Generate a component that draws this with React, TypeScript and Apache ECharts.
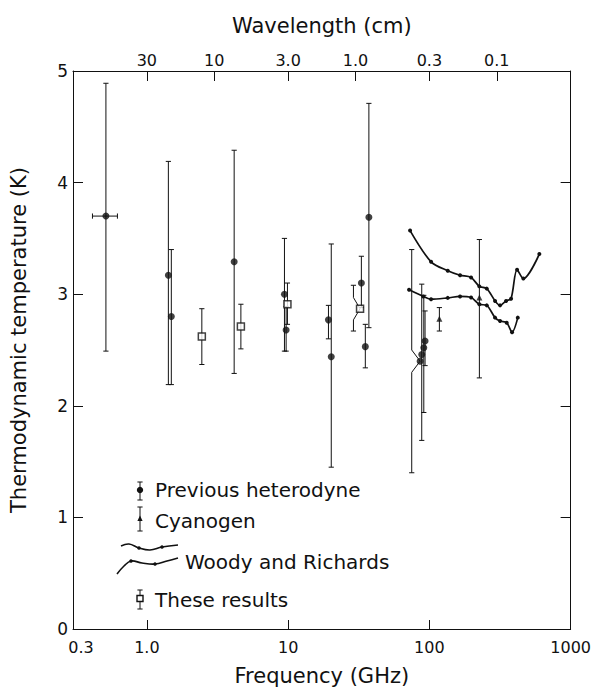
import React, { useEffect, useRef } from 'react';
import * as echarts from 'echarts';

// ---------- axis ticks ----------
const FREQ_TICKS_GHZ = [0.3, 1, 10, 100, 1000];
const FREQ_TICK_LABELS = ['0.3', '1.0', '10', '100', '1000'];
const FREQ_MAJOR_TICKS_GHZ = [1, 10, 100];
const WAVELENGTH_TICKS_CM = [30, 10, 3, 1, 0.3, 0.1];
const WAVELENGTH_TICK_LABELS = ['30', '10', '3.0', '1.0', '0.3', '0.1'];
const TEMP_MIN = 0;
const TEMP_MAX = 5;

// ---------- Previous heterodyne ----------
const PREV_FREQ = [0.513, 1.42, 1.49, 4.15, 9.42, 9.68, 19.3, 20.2, 33.0, 35.2, 37.3, 86, 88.3, 91.3, 93.2];
const PREV_TEMP = [3.7, 3.17, 2.8, 3.29, 3.0, 2.68, 2.77, 2.44, 3.1, 2.53, 3.69, 2.4, 2.46, 2.52, 2.58];
const PREV_LO = [2.49, 2.19, 2.19, 2.29, 2.49, 2.49, 2.6, 1.45, 2.88, 2.34, 2.7, 1.4, 1.69, 1.94, 2.36];
const PREV_HI = [4.89, 4.19, 3.4, 4.29, 3.5, 2.89, 2.9, 3.45, 3.34, 2.73, 4.71, 3.4, 3.09, 2.99, 2.85];
const PREV_BAR_FREQ = [0.513, 1.42, 1.49, 4.15, 9.42, 9.68, 19.3, 20.2, 33.0, 35.2, 37.3, 75, 88.3, 91.3, 93.2];
const PREV_FREQ_ERR_LO = [0.412];
const PREV_FREQ_ERR_HI = [0.619];
const PREV_FREQ_ERR_TEMP = [3.7];

// ---------- Cyanogen ----------
const CYAN_FREQ = [117.7, 225.9];
const CYAN_TEMP = [2.78, 2.97];
const CYAN_LO = [2.67, 2.25];
const CYAN_HI = [2.88, 3.49];

// ---------- These results ----------
const OURS_FREQ = [2.45, 4.63, 9.89, 32.3];
const OURS_TEMP = [2.62, 2.71, 2.91, 2.87];
const OURS_LO = [2.37, 2.51, 2.73, 2.67];
const OURS_HI = [2.87, 2.91, 3.1, 3.08];
const OURS_BAR_FREQ = [2.45, 4.63, 9.89, 29.0];

// ---------- Woody and Richards ----------
const WR_UPPER_FREQ = [73.0, 102.8, 134.9, 164.9, 197.3, 225.9, 254.8, 291.7, 316.4, 349.1, 378.6, 417.6, 462.5, 600.4];
const WR_UPPER_TEMP = [3.57, 3.29, 3.21, 3.17, 3.15, 3.07, 3.05, 2.94, 2.9, 2.94, 2.96, 3.22, 3.14, 3.36];
const WR_LOWER_FREQ = [71.8, 90.7, 102.8, 134.9, 164.9, 197.3, 225.9, 254.8, 291.7, 316.4, 352.6, 384.9, 422.5];
const WR_LOWER_TEMP = [3.04, 2.98, 2.955, 2.967, 2.98, 2.97, 2.91, 2.9, 2.79, 2.76, 2.745, 2.66, 2.79];

// ---------- text ----------
const LEGEND_LABELS = ['Previous heterodyne', 'Cyanogen', 'Woody and Richards', 'These results'];
const X_NAME = 'Frequency (GHz)';
const X2_NAME = 'Wavelength (cm)';
const Y_NAME = 'Thermodynamic temperature (K)';

const INK = '#111';
const FONT = 'DejaVu Sans';
const JOG = 0.1;
const CAP = 2.6;

const lg = (v: number) => Math.log10(v);
const wavelengthToFreq = (cm: number) => 30 / cm;

function labelFor(values: number[], labels: string[], v: number) {
  for (let i = 0; i < values.length; i++) {
    if (Math.abs(lg(values[i]) - v) < 1e-6) return labels[i];
  }
  return '';
}

function barRender(params: any, api: any) {
  const bx = api.value(0);
  const lo = api.value(1);
  const hi = api.value(2);
  const px = api.value(3);
  const pt = api.value(4);
  const top = api.coord([bx, hi]);
  const bot = api.coord([bx, lo]);
  const style = { stroke: INK, lineWidth: 1, fill: null };
  const children: any[] = [];
  if (Math.abs(bx - px) > 1e-9) {
    const jt = api.coord([bx, pt + JOG]);
    const jb = api.coord([bx, pt - JOG]);
    const p = api.coord([px, pt]);
    children.push({ type: 'polyline', shape: { points: [top, jt, p, jb, bot] }, style });
  } else {
    children.push({ type: 'line', shape: { x1: top[0], y1: top[1], x2: bot[0], y2: bot[1] }, style });
  }
  children.push({ type: 'line', shape: { x1: top[0] - CAP, y1: top[1], x2: top[0] + CAP, y2: top[1] }, style });
  children.push({ type: 'line', shape: { x1: bot[0] - CAP, y1: bot[1], x2: bot[0] + CAP, y2: bot[1] }, style });
  return { type: 'group', children };
}

function hBarRender(params: any, api: any) {
  const a = api.coord([api.value(0), api.value(2)]);
  const b = api.coord([api.value(1), api.value(2)]);
  const style = { stroke: INK, lineWidth: 1, fill: null };
  return {
    type: 'group',
    children: [
      { type: 'line', shape: { x1: a[0], y1: a[1], x2: b[0], y2: b[1] }, style },
      { type: 'line', shape: { x1: a[0], y1: a[1] - CAP, x2: a[0], y2: a[1] + CAP }, style },
      { type: 'line', shape: { x1: b[0], y1: b[1] - CAP, x2: b[0], y2: b[1] + CAP }, style },
    ],
  };
}

function buildOption() {
  const prevBars = PREV_FREQ.map((f, i) => [lg(PREV_BAR_FREQ[i]), PREV_LO[i], PREV_HI[i], lg(f), PREV_TEMP[i]]);
  const prevPts = PREV_FREQ.map((f, i) => [lg(f), PREV_TEMP[i]]);
  const prevH = PREV_FREQ_ERR_LO.map((lo, i) => [lg(lo), lg(PREV_FREQ_ERR_HI[i]), PREV_FREQ_ERR_TEMP[i]]);
  const cyanBars = CYAN_FREQ.map((f, i) => [lg(f), CYAN_LO[i], CYAN_HI[i], lg(f), CYAN_TEMP[i]]);
  const cyanPts = CYAN_FREQ.map((f, i) => [lg(f), CYAN_TEMP[i]]);
  const oursBars = OURS_FREQ.map((f, i) => [lg(OURS_BAR_FREQ[i]), OURS_LO[i], OURS_HI[i], lg(f), OURS_TEMP[i]]);
  const oursPts = OURS_FREQ.map((f, i) => [lg(f), OURS_TEMP[i]]);
  const wrUp = WR_UPPER_FREQ.map((f, i) => [lg(f), WR_UPPER_TEMP[i]]);
  const wrLo = WR_LOWER_FREQ.map((f, i) => [lg(f), WR_LOWER_TEMP[i]]);

  const xMin = lg(FREQ_TICKS_GHZ[0]);
  const xMax = lg(FREQ_TICKS_GHZ[FREQ_TICKS_GHZ.length - 1]);
  const axisLine = { show: true, onZero: false, lineStyle: { color: INK, width: 1 } };
  const nameStyle = { fontFamily: FONT, fontSize: 21, color: INK };

  const lineStyle = { stroke: INK, lineWidth: 1, fill: null };
  const textStyle = (text: string, x: number, y: number) => ({
    type: 'text',
    x,
    y,
    style: { text, fontFamily: FONT, fontSize: 20, fill: INK, verticalAlign: 'middle', align: 'left' },
  });
  const errSym = (x: number, y1: number, y2: number) => [
    { type: 'line', shape: { x1: x, y1, x2: x, y2 }, style: lineStyle },
    { type: 'line', shape: { x1: x - CAP, y1, x2: x + CAP, y2: y1 }, style: lineStyle },
    { type: 'line', shape: { x1: x - CAP, y1: y2, x2: x + CAP, y2 }, style: lineStyle },
  ];

  const graphic: any[] = [
    ...errSym(140, 482, 500),
    { type: 'circle', shape: { cx: 140, cy: 490, r: 3.2 }, style: { fill: INK } },
    textStyle(LEGEND_LABELS[0], 155, 490),
    ...errSym(140, 507, 531),
    { type: 'polygon', shape: { points: [[140, 515.5], [137.4, 521], [142.6, 521]] }, style: { fill: INK } },
    textStyle(LEGEND_LABELS[1], 155, 521),
    {
      type: 'polyline',
      shape: { points: [[121, 546], [129, 544], [139, 548], [150, 550], [162, 547], [178, 545]], smooth: 0.4 },
      style: { stroke: INK, lineWidth: 1.6, fill: null },
    },
    { type: 'circle', shape: { cx: 139, cy: 548, r: 1.8 }, style: { fill: INK } },
    { type: 'circle', shape: { cx: 162, cy: 547, r: 1.8 }, style: { fill: INK } },
    {
      type: 'polyline',
      shape: { points: [[117, 574], [124, 566], [131, 561], [142, 563], [155, 564], [167, 561], [178, 558]], smooth: 0.4 },
      style: { stroke: INK, lineWidth: 1.6, fill: null },
    },
    { type: 'circle', shape: { cx: 131, cy: 561, r: 1.8 }, style: { fill: INK } },
    { type: 'circle', shape: { cx: 155, cy: 564, r: 1.8 }, style: { fill: INK } },
    textStyle(LEGEND_LABELS[2], 185, 562),
    ...errSym(140, 590, 609),
    { type: 'rect', shape: { x: 137, y: 595.5, width: 6, height: 6 }, style: { fill: '#fff', stroke: INK, lineWidth: 1.4 } },
    textStyle(LEGEND_LABELS[3], 155, 600),
  ];

  return {
    animation: false,
    backgroundColor: '#fff',
    textStyle: { fontFamily: FONT, color: INK },
    grid: { left: 73, right: 23, top: 71, bottom: 64, containLabel: false },
    xAxis: [
      {
        type: 'value',
        position: 'bottom',
        min: xMin,
        max: xMax,
        name: X_NAME,
        nameLocation: 'middle',
        nameGap: 36,
        nameTextStyle: nameStyle,
        axisLine,
        splitLine: { show: false },
        axisTick: { show: true, inside: true, length: 9, lineStyle: { color: INK }, customValues: FREQ_MAJOR_TICKS_GHZ.map(lg) },
        axisLabel: {
          show: true,
          margin: 10,
          fontSize: 16,
          fontFamily: FONT,
          color: INK,
          customValues: FREQ_TICKS_GHZ.map(lg),
          formatter: (v: number) => {
            const s = labelFor(FREQ_TICKS_GHZ, FREQ_TICK_LABELS, v);
            return Math.abs(v - xMin) < 1e-6 ? '{s|' + s + '}' : s;
          },
          rich: { s: { fontSize: 16, fontFamily: FONT, color: INK, padding: [0, 0, 0, 16] } },
        },
      },
      {
        type: 'value',
        position: 'top',
        min: xMin,
        max: xMax,
        name: X2_NAME,
        nameLocation: 'middle',
        nameGap: 35,
        nameTextStyle: nameStyle,
        axisLine,
        splitLine: { show: false },
        axisTick: {
          show: true,
          inside: true,
          length: 10,
          lineStyle: { color: INK },
          customValues: WAVELENGTH_TICKS_CM.map((c) => lg(wavelengthToFreq(c))),
        },
        axisLabel: {
          show: true,
          margin: 3,
          fontSize: 16,
          fontFamily: FONT,
          color: INK,
          customValues: WAVELENGTH_TICKS_CM.map((c) => lg(wavelengthToFreq(c))),
          formatter: (v: number) => {
            const freqs = WAVELENGTH_TICKS_CM.map(wavelengthToFreq);
            return labelFor(freqs, WAVELENGTH_TICK_LABELS, v);
          },
        },
      },
    ],
    yAxis: [
      {
        type: 'value',
        position: 'left',
        min: TEMP_MIN,
        max: TEMP_MAX,
        interval: 1,
        name: Y_NAME,
        nameLocation: 'middle',
        nameGap: 44,
        nameTextStyle: { ...nameStyle, padding: [0, 0, 0, 20] },
        axisLine,
        splitLine: { show: false },
        axisTick: { show: true, inside: true, length: 10, lineStyle: { color: INK } },
        axisLabel: { show: true, margin: 5, fontSize: 17, fontFamily: FONT, color: INK },
      },
      {
        type: 'value',
        position: 'right',
        min: TEMP_MIN,
        max: TEMP_MAX,
        interval: 1,
        axisLine,
        splitLine: { show: false },
        axisTick: { show: true, inside: true, length: 10, lineStyle: { color: INK } },
        axisLabel: { show: false },
      },
    ],
    graphic,
    series: [
      { type: 'custom', name: 'prevBars', renderItem: barRender, data: prevBars, z: 2 },
      { type: 'custom', name: 'prevHBar', renderItem: hBarRender, data: prevH, z: 2 },
      { type: 'custom', name: 'cyanBars', renderItem: barRender, data: cyanBars, z: 2 },
      { type: 'custom', name: 'oursBars', renderItem: barRender, data: oursBars, z: 2 },
      {
        type: 'line',
        name: 'Woody and Richards (upper)',
        data: wrUp,
        smooth: 0.3,
        symbol: 'circle',
        symbolSize: 4,
        showSymbol: true,
        lineStyle: { color: INK, width: 1.7 },
        itemStyle: { color: INK },
        z: 3,
      },
      {
        type: 'line',
        name: 'Woody and Richards (lower)',
        data: wrLo,
        smooth: 0.3,
        symbol: 'circle',
        symbolSize: 4,
        showSymbol: true,
        lineStyle: { color: INK, width: 1.7 },
        itemStyle: { color: INK },
        z: 3,
      },
      {
        type: 'scatter',
        name: LEGEND_LABELS[0],
        data: prevPts,
        symbol: 'circle',
        symbolSize: 7,
        itemStyle: { color: INK },
        z: 4,
      },
      {
        type: 'scatter',
        name: LEGEND_LABELS[1],
        data: cyanPts,
        symbol: 'triangle',
        symbolSize: 6,
        itemStyle: { color: INK },
        z: 4,
      },
      {
        type: 'scatter',
        name: LEGEND_LABELS[3],
        data: oursPts,
        symbol: 'rect',
        symbolSize: 7,
        itemStyle: { color: '#fff', borderColor: INK, borderWidth: 1.5 },
        z: 5,
      },
    ],
  };
}

export default function App() {
  const ref = useRef<HTMLDivElement>(null);
  useEffect(() => {
    if (!ref.current) return;
    const chart = echarts.init(ref.current, undefined, { renderer: 'svg' });
    chart.setOption(buildOption() as any);
    return () => chart.dispose();
  }, []);
  return (
    <div
      ref={ref}
      style={{ position: 'absolute', left: 0, top: 0, width: 594, height: 693, background: '#fff' }}
    />
  );
}
